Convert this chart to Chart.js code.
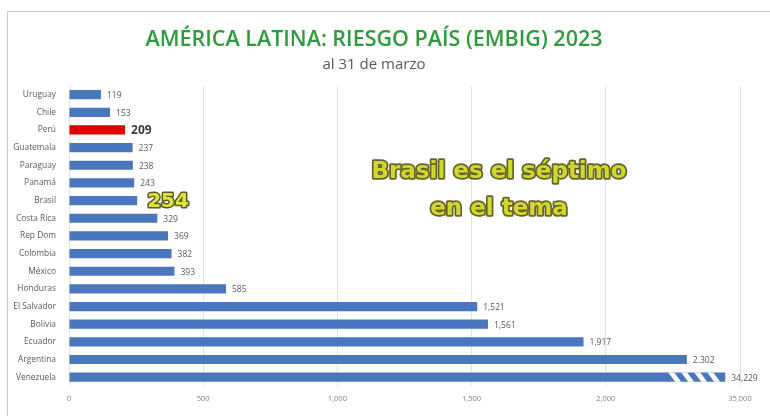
<!DOCTYPE html>
<html>
<head>
<meta charset="utf-8">
<script src="https://cdn.jsdelivr.net/npm/chart.js@4"></script>
<style>
  body { margin: 0; background: #fff; }
  #marco { position: absolute; left: 7px; top: 11px; width: 800px; height: 440px; border: 1px solid #c9c9c9; }
  #caja { position: absolute; left: 0; top: 0; width: 770px; height: 416px; }
</style>
</head>
<body>
<div id="marco"></div>
<div id="caja"><canvas id="graficoRiesgo" width="770" height="416"></canvas></div>
<script>
// datos: riesgo país EMBIG al 31 de marzo de 2023 (pb)
const paises = ['Uruguay', 'Chile', 'Perú', 'Guatemala', 'Paraguay', 'Panamá', 'Brasil', 'Costa Rica',
  'Rep Dom', 'Colombia', 'México', 'Honduras', 'El Salvador', 'Bolivia', 'Ecuador', 'Argentina', 'Venezuela'];
const valores = [119, 153, 209, 237, 238, 243, 254, 329, 369, 382, 393, 585, 1521, 1561, 1917, 2302, 34229];
const etiquetasValor = ['119', '153', '209', '237', '238', '243', '254', '329', '369', '382', '393', '585',
  '1,521', '1,561', '1,917', '2.302', '34,229'];
const ticksX = ['0', '500', '1,000', '1,500', '2,000', '35,000'];

// eje cortado: el último tick (2500) representa 35,000
const tramoCorte = 2500;
const valorTope = 35000;
const valoresEje = valores.map(v => v > tramoCorte ? v * tramoCorte / valorTope : v);

const colores = paises.map(p => p === 'Perú' ? '#e00000' : '#4a76be');

const fuente = '"Open Sans", "Noto Sans", sans-serif';

// etiquetas de valor al final de cada barra
const etiquetasPlugin = {
  id: 'etiquetas',
  afterDatasetsDraw(chart) {
    const c = chart.ctx;
    const barras = chart.getDatasetMeta(0).data;
    barras.forEach((barra, i) => {
      c.save();
      c.textBaseline = 'middle';
      c.textAlign = 'left';
      if (paises[i] === 'Perú') {
        c.font = 'bold 12px ' + fuente;
        c.fillStyle = '#3a3a3a';
        c.fillText(etiquetasValor[i], barra.x + 6, barra.y + 1);
      } else if (paises[i] === 'Brasil') {
        c.font = 'bold 20px "DejaVu Sans", sans-serif';
        c.lineWidth = 3;
        c.strokeStyle = '#5c5a22';
        c.lineJoin = 'round';
        c.strokeText(etiquetasValor[i], barra.x + 10, barra.y + 1);
        c.fillStyle = '#dde33c';
        c.fillText(etiquetasValor[i], barra.x + 10, barra.y + 1);
      } else {
        c.font = '8.5px ' + fuente;
        c.fillStyle = '#595959';
        c.fillText(etiquetasValor[i], barra.x + 6, barra.y + 1);
      }
      c.restore();
    });

    // franjas blancas del corte en Venezuela
    const ultima = barras[barras.length - 1];
    const h = ultima.height;
    c.save();
    c.fillStyle = '#ffffff';
    for (let k = 0; k < 4; k++) {
      const x0 = ultima.x - 57 + k * 13;
      c.beginPath();
      c.moveTo(x0, ultima.y - h / 2);
      c.lineTo(x0 + 6, ultima.y - h / 2);
      c.lineTo(x0 + 13, ultima.y + h / 2);
      c.lineTo(x0 + 7, ultima.y + h / 2);
      c.closePath();
      c.fill();
    }
    c.restore();

    // texto destacado
    c.save();
    c.font = 'bold 23px "DejaVu Sans", sans-serif';
    c.textAlign = 'center';
    c.textBaseline = 'middle';
    c.lineJoin = 'round';
    c.lineWidth = 3.5;
    c.strokeStyle = '#66632a';
    c.fillStyle = '#d0d72e';
    [['Brasil es el séptimo', 172], ['en el tema', 209]].forEach(([t, y]) => {
      c.strokeText(t, 499, y);
      c.fillText(t, 499, y);
    });
    c.restore();
  }
};

const ctx = document.getElementById('graficoRiesgo').getContext('2d');

const grafico = new Chart(ctx, {
  type: 'bar',
  data: {
    labels: paises,
    datasets: [{
      label: 'Riesgo país',
      data: valoresEje,
      backgroundColor: colores,
      categoryPercentage: 1,
      barPercentage: 0.52
    }]
  },
  options: {
    indexAxis: 'y',
    responsive: false,
    animation: false,
    layout: { padding: { left: 8, right: 30, top: 0, bottom: 5 } },
    plugins: {
      legend: { display: false },
      tooltip: { enabled: false },
      title: {
        display: true,
        text: 'AMÉRICA LATINA: RIESGO PAÍS (EMBIG) 2023',
        color: '#2e9b3c',
        font: { family: fuente, size: 21.5, weight: '600' },
        padding: { top: 27, bottom: 3 }
      },
      subtitle: {
        display: true,
        text: 'al 31 de marzo',
        color: '#595959',
        font: { family: fuente, size: 15 },
        padding: { top: 0, bottom: 12 }
      }
    },
    scales: {
      x: {
        min: 0,
        max: tramoCorte,
        border: { display: false },
        grid: { color: '#e3e3e3', drawTicks: false },
        ticks: {
          stepSize: 500,
          padding: 8,
          color: '#7f7f7f',
          font: { family: fuente, size: 7.5 },
          callback: (v, i) => ticksX[i]
        }
      },
      y: {
        border: { display: false },
        grid: { display: false },
        ticks: {
          color: '#595959',
          padding: 5,
          font: { family: fuente, size: 8.4 }
        },
        afterFit(scale) { scale.width = 61; }
      }
    }
  },
  plugins: [etiquetasPlugin]
});
</script>
</body>
</html>
